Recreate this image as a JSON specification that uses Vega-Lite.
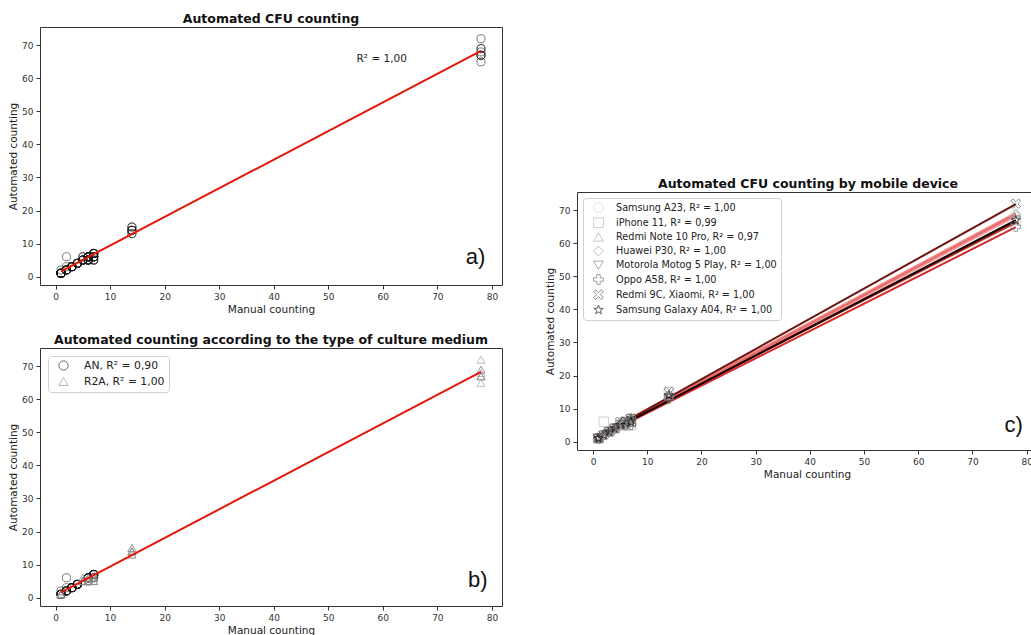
{
  "$schema": "https://vega.github.io/schema/vega-lite/v6.json",
  "background": "white",
  "padding": {"left": 8, "top": 12, "right": 0, "bottom": 0},
  "datasets": {
    "points": [
      {"device": "Samsung A23", "medium": "AN", "manual": 1, "automated": 1},
      {"device": "iPhone 11", "medium": "AN", "manual": 1, "automated": 1},
      {"device": "Redmi Note 10 Pro", "medium": "AN", "manual": 1, "automated": 2},
      {"device": "Huawei P30", "medium": "AN", "manual": 1, "automated": 1},
      {"device": "Motorola Motog 5 Play", "medium": "AN", "manual": 1, "automated": 1},
      {"device": "Oppo A58", "medium": "AN", "manual": 1, "automated": 1},
      {"device": "Redmi 9C, Xiaomi", "medium": "AN", "manual": 1, "automated": 1},
      {"device": "Samsung Galaxy A04", "medium": "AN", "manual": 1, "automated": 1},
      {"device": "Samsung A23", "medium": "AN", "manual": 2, "automated": 2},
      {"device": "iPhone 11", "medium": "AN", "manual": 2, "automated": 6},
      {"device": "Redmi Note 10 Pro", "medium": "AN", "manual": 2, "automated": 3},
      {"device": "Huawei P30", "medium": "AN", "manual": 2, "automated": 2},
      {"device": "Motorola Motog 5 Play", "medium": "AN", "manual": 2, "automated": 2},
      {"device": "Oppo A58", "medium": "AN", "manual": 2, "automated": 2},
      {"device": "Redmi 9C, Xiaomi", "medium": "AN", "manual": 2, "automated": 2},
      {"device": "Samsung Galaxy A04", "medium": "AN", "manual": 2, "automated": 2},
      {"device": "Samsung A23", "medium": "AN", "manual": 3, "automated": 3},
      {"device": "iPhone 11", "medium": "AN", "manual": 3, "automated": 3},
      {"device": "Redmi Note 10 Pro", "medium": "AN", "manual": 3, "automated": 3},
      {"device": "Huawei P30", "medium": "AN", "manual": 3, "automated": 3},
      {"device": "Motorola Motog 5 Play", "medium": "AN", "manual": 3, "automated": 3},
      {"device": "Oppo A58", "medium": "AN", "manual": 3, "automated": 3},
      {"device": "Redmi 9C, Xiaomi", "medium": "AN", "manual": 3, "automated": 3},
      {"device": "Samsung Galaxy A04", "medium": "AN", "manual": 3, "automated": 3},
      {"device": "Samsung A23", "medium": "AN", "manual": 4, "automated": 4},
      {"device": "iPhone 11", "medium": "AN", "manual": 4, "automated": 4},
      {"device": "Redmi Note 10 Pro", "medium": "AN", "manual": 4, "automated": 4},
      {"device": "Huawei P30", "medium": "AN", "manual": 4, "automated": 4},
      {"device": "Motorola Motog 5 Play", "medium": "AN", "manual": 4, "automated": 4},
      {"device": "Oppo A58", "medium": "AN", "manual": 4, "automated": 4},
      {"device": "Redmi 9C, Xiaomi", "medium": "AN", "manual": 4, "automated": 4},
      {"device": "Samsung Galaxy A04", "medium": "AN", "manual": 4, "automated": 4},
      {"device": "Samsung A23", "medium": "AN", "manual": 6, "automated": 6},
      {"device": "iPhone 11", "medium": "AN", "manual": 6, "automated": 6},
      {"device": "Redmi Note 10 Pro", "medium": "AN", "manual": 6, "automated": 6},
      {"device": "Huawei P30", "medium": "AN", "manual": 6, "automated": 6},
      {"device": "Motorola Motog 5 Play", "medium": "AN", "manual": 6, "automated": 6},
      {"device": "Oppo A58", "medium": "AN", "manual": 6, "automated": 5},
      {"device": "Redmi 9C, Xiaomi", "medium": "AN", "manual": 6, "automated": 6},
      {"device": "Samsung Galaxy A04", "medium": "AN", "manual": 6, "automated": 6},
      {"device": "Samsung A23", "medium": "AN", "manual": 7, "automated": 7},
      {"device": "iPhone 11", "medium": "AN", "manual": 7, "automated": 6},
      {"device": "Redmi Note 10 Pro", "medium": "AN", "manual": 7, "automated": 7},
      {"device": "Huawei P30", "medium": "AN", "manual": 7, "automated": 7},
      {"device": "Motorola Motog 5 Play", "medium": "AN", "manual": 7, "automated": 7},
      {"device": "Oppo A58", "medium": "AN", "manual": 7, "automated": 6},
      {"device": "Redmi 9C, Xiaomi", "medium": "AN", "manual": 7, "automated": 7},
      {"device": "Samsung Galaxy A04", "medium": "AN", "manual": 7, "automated": 7},
      {"device": "Samsung A23", "medium": "R2A", "manual": 1, "automated": 1},
      {"device": "iPhone 11", "medium": "R2A", "manual": 1, "automated": 1},
      {"device": "Redmi Note 10 Pro", "medium": "R2A", "manual": 1, "automated": 1},
      {"device": "Huawei P30", "medium": "R2A", "manual": 1, "automated": 1},
      {"device": "Motorola Motog 5 Play", "medium": "R2A", "manual": 1, "automated": 1},
      {"device": "Oppo A58", "medium": "R2A", "manual": 1, "automated": 1},
      {"device": "Redmi 9C, Xiaomi", "medium": "R2A", "manual": 1, "automated": 1},
      {"device": "Samsung Galaxy A04", "medium": "R2A", "manual": 1, "automated": 1},
      {"device": "Samsung A23", "medium": "R2A", "manual": 5, "automated": 5},
      {"device": "iPhone 11", "medium": "R2A", "manual": 5, "automated": 5},
      {"device": "Redmi Note 10 Pro", "medium": "R2A", "manual": 5, "automated": 6},
      {"device": "Huawei P30", "medium": "R2A", "manual": 5, "automated": 5},
      {"device": "Motorola Motog 5 Play", "medium": "R2A", "manual": 5, "automated": 5},
      {"device": "Oppo A58", "medium": "R2A", "manual": 5, "automated": 5},
      {"device": "Redmi 9C, Xiaomi", "medium": "R2A", "manual": 5, "automated": 6},
      {"device": "Samsung Galaxy A04", "medium": "R2A", "manual": 5, "automated": 5},
      {"device": "Samsung A23", "medium": "R2A", "manual": 6, "automated": 5},
      {"device": "iPhone 11", "medium": "R2A", "manual": 6, "automated": 5},
      {"device": "Redmi Note 10 Pro", "medium": "R2A", "manual": 6, "automated": 6},
      {"device": "Huawei P30", "medium": "R2A", "manual": 6, "automated": 6},
      {"device": "Motorola Motog 5 Play", "medium": "R2A", "manual": 6, "automated": 5},
      {"device": "Oppo A58", "medium": "R2A", "manual": 6, "automated": 5},
      {"device": "Redmi 9C, Xiaomi", "medium": "R2A", "manual": 6, "automated": 6},
      {"device": "Samsung Galaxy A04", "medium": "R2A", "manual": 6, "automated": 5},
      {"device": "Samsung A23", "medium": "R2A", "manual": 7, "automated": 5},
      {"device": "iPhone 11", "medium": "R2A", "manual": 7, "automated": 5},
      {"device": "Redmi Note 10 Pro", "medium": "R2A", "manual": 7, "automated": 7},
      {"device": "Huawei P30", "medium": "R2A", "manual": 7, "automated": 6},
      {"device": "Motorola Motog 5 Play", "medium": "R2A", "manual": 7, "automated": 6},
      {"device": "Oppo A58", "medium": "R2A", "manual": 7, "automated": 5},
      {"device": "Redmi 9C, Xiaomi", "medium": "R2A", "manual": 7, "automated": 6},
      {"device": "Samsung Galaxy A04", "medium": "R2A", "manual": 7, "automated": 6},
      {"device": "Samsung A23", "medium": "R2A", "manual": 14, "automated": 14},
      {"device": "iPhone 11", "medium": "R2A", "manual": 14, "automated": 15},
      {"device": "Redmi Note 10 Pro", "medium": "R2A", "manual": 14, "automated": 14},
      {"device": "Huawei P30", "medium": "R2A", "manual": 14, "automated": 14},
      {"device": "Motorola Motog 5 Play", "medium": "R2A", "manual": 14, "automated": 13},
      {"device": "Oppo A58", "medium": "R2A", "manual": 14, "automated": 13},
      {"device": "Redmi 9C, Xiaomi", "medium": "R2A", "manual": 14, "automated": 15},
      {"device": "Samsung Galaxy A04", "medium": "R2A", "manual": 14, "automated": 14},
      {"device": "Samsung A23", "medium": "R2A", "manual": 78, "automated": 68},
      {"device": "iPhone 11", "medium": "R2A", "manual": 78, "automated": 67},
      {"device": "Redmi Note 10 Pro", "medium": "R2A", "manual": 78, "automated": 69},
      {"device": "Huawei P30", "medium": "R2A", "manual": 78, "automated": 69},
      {"device": "Motorola Motog 5 Play", "medium": "R2A", "manual": 78, "automated": 67},
      {"device": "Oppo A58", "medium": "R2A", "manual": 78, "automated": 65},
      {"device": "Redmi 9C, Xiaomi", "medium": "R2A", "manual": 78, "automated": 72},
      {"device": "Samsung Galaxy A04", "medium": "R2A", "manual": 78, "automated": 67}
    ],
    "fits": [
      {"device": "Samsung A23", "manual": 1, "automated": 1.3},
      {"device": "Samsung A23", "manual": 78, "automated": 68.2},
      {"device": "iPhone 11", "manual": 1, "automated": 1.8},
      {"device": "iPhone 11", "manual": 78, "automated": 66.3},
      {"device": "Redmi Note 10 Pro", "manual": 1, "automated": 1.9},
      {"device": "Redmi Note 10 Pro", "manual": 78, "automated": 69.2},
      {"device": "Huawei P30", "manual": 1, "automated": 1.4},
      {"device": "Huawei P30", "manual": 78, "automated": 68.8},
      {"device": "Motorola Motog 5 Play", "manual": 1, "automated": 1.3},
      {"device": "Motorola Motog 5 Play", "manual": 78, "automated": 66.8},
      {"device": "Oppo A58", "manual": 1, "automated": 1.2},
      {"device": "Oppo A58", "manual": 78, "automated": 64.9},
      {"device": "Redmi 9C, Xiaomi", "manual": 1, "automated": 1.5},
      {"device": "Redmi 9C, Xiaomi", "manual": 78, "automated": 71.9},
      {"device": "Samsung Galaxy A04", "manual": 1, "automated": 1.3},
      {"device": "Samsung Galaxy A04", "manual": 78, "automated": 67.0}
    ],
    "overall": [
      {"manual": 1, "automated": 1.6},
      {"manual": 78, "automated": 68.3}
    ]
  },
  "hconcat": [
    {
      "vconcat": [
        {
          "width": 462,
          "height": 258,
          "title": {"text": "Automated CFU counting", "offset": 2},
          "layer": [
            {
              "data": {"name": "points"},
              "mark": {"type": "point", "filled": false, "shape": "circle", "size": 65, "stroke": "#111", "strokeWidth": 0.8},
              "encoding": {
                "x": {"field": "manual", "type": "quantitative", "scale": {"domain": [-2.85, 81.85], "nice": false, "zero": false}, "axis": {"values": [0, 10, 20, 30, 40, 50, 60, 70, 80], "tickCount": 9, "title": "Manual counting"}},
                "y": {"field": "automated", "type": "quantitative", "scale": {"domain": [-2.55, 75.55], "nice": false, "zero": false}, "axis": {"values": [0, 10, 20, 30, 40, 50, 60, 70], "tickCount": 8, "labelOverlap": false, "title": "Automated counting"}}
              }
            },
            {
              "data": {"name": "overall"},
              "mark": {"type": "line", "color": "#e3170a", "strokeWidth": 2},
              "encoding": {
                "x": {"field": "manual", "type": "quantitative"},
                "y": {"field": "automated", "type": "quantitative"}
              }
            },
            {
              "data": {"values": [{}]},
              "mark": {"type": "text", "font": "DejaVu Sans", "fontSize": 10.5, "color": "#222"},
              "encoding": {"x": {"datum": 59.8, "type": "quantitative"}, "y": {"datum": 66, "type": "quantitative"}, "text": {"value": "R² = 1,00"}}
            },
            {
              "data": {"values": [{}]},
              "mark": {"type": "text", "font": "Liberation Sans", "fontSize": 22, "align": "right", "baseline": "middle", "color": "#111"},
              "encoding": {"x": {"datum": 78.8, "type": "quantitative"}, "y": {"datum": 5.8, "type": "quantitative"}, "text": {"value": "a)"}}
            }
          ]
        },
        {
          "width": 462,
          "height": 258,
          "title": {"text": "Automated counting according to the type of culture medium", "offset": 2},
          "layer": [
            {
              "data": {"name": "points"},
              "mark": {"type": "point", "filled": false, "size": 65, "strokeWidth": 0.8},
              "encoding": {
                "x": {"field": "manual", "type": "quantitative", "scale": {"domain": [-2.85, 81.85], "nice": false, "zero": false}, "axis": {"values": [0, 10, 20, 30, 40, 50, 60, 70, 80], "tickCount": 9, "title": "Manual counting"}},
                "y": {"field": "automated", "type": "quantitative", "scale": {"domain": [-2.55, 75.55], "nice": false, "zero": false}, "axis": {"values": [0, 10, 20, 30, 40, 50, 60, 70], "tickCount": 8, "labelOverlap": false, "title": "Automated counting"}},
                "shape": {"field": "medium", "type": "nominal", "scale": {"domain": ["AN", "R2A"], "range": ["circle", "triangle-up"]}, "legend": {"title": null, "orient": "top-left", "offset": 8, "labelFontSize": 10.8, "labelOffset": 15, "rowPadding": 3, "symbolSize": 85, "labelExpr": "datum.label == 'AN' ? 'AN, R² = 0,90' : 'R2A, R² = 1,00'"}},
                "stroke": {"field": "medium", "type": "nominal", "scale": {"domain": ["AN", "R2A"], "range": ["#111111", "#8c8c8c"]}, "legend": {"title": null, "orient": "top-left", "offset": 8, "labelFontSize": 10.8, "labelOffset": 15, "rowPadding": 3, "symbolSize": 85, "labelExpr": "datum.label == 'AN' ? 'AN, R² = 0,90' : 'R2A, R² = 1,00'"}}
              }
            },
            {
              "data": {"name": "overall"},
              "mark": {"type": "line", "color": "#e3170a", "strokeWidth": 2},
              "encoding": {
                "x": {"field": "manual", "type": "quantitative"},
                "y": {"field": "automated", "type": "quantitative"}
              }
            },
            {
              "data": {"values": [{}]},
              "mark": {"type": "text", "font": "Liberation Sans", "fontSize": 22, "align": "right", "baseline": "middle", "color": "#111"},
              "encoding": {"x": {"datum": 79.2, "type": "quantitative"}, "y": {"datum": 5.3, "type": "quantitative"}, "text": {"value": "b)"}}
            }
          ]
        }
      ],
      "spacing": 18,
      "resolve": {
        "scale": {"shape": "independent", "stroke": "independent"},
        "legend": {"shape": "independent", "stroke": "independent"}
      }
    },
    {
      "vconcat": [
        {
          "width": 10,
          "height": 150,
          "data": {"values": [{}]},
          "mark": {"type": "text"},
          "encoding": {"text": {"value": ""}},
          "view": {"stroke": null}
        },
        {
          "width": 454,
          "height": 258,
          "title": {"text": "Automated CFU counting by mobile device", "offset": 2, "dx": 4},
          "layer": [
            {"data": {"name": "fits"}, "transform": [{"filter": "datum.device == 'Samsung A23'"}], "mark": {"type": "line", "strokeWidth": 2.2, "color": "#f5a3a3"},
             "encoding": {
               "x": {"field": "manual", "type": "quantitative", "scale": {"domain": [-2.95, 80.8], "nice": false, "zero": false}, "axis": {"values": [0, 10, 20, 30, 40, 50, 60, 70, 80], "tickCount": 9, "title": "Manual counting", "titleX": 230}},
               "y": {"field": "automated", "type": "quantitative", "scale": {"domain": [-2.55, 75.55], "nice": false, "zero": false}, "axis": {"values": [0, 10, 20, 30, 40, 50, 60, 70], "tickCount": 8, "labelOverlap": false, "title": "Automated counting"}}
             }},
            {"data": {"name": "fits"}, "transform": [{"filter": "datum.device == 'iPhone 11'"}], "mark": {"type": "line", "strokeWidth": 2, "color": "#c0392b"},
             "encoding": {"x": {"field": "manual", "type": "quantitative"}, "y": {"field": "automated", "type": "quantitative"}}},
            {"data": {"name": "fits"}, "transform": [{"filter": "datum.device == 'Redmi Note 10 Pro'"}], "mark": {"type": "line", "strokeWidth": 2.2, "color": "#f28b82"},
             "encoding": {"x": {"field": "manual", "type": "quantitative"}, "y": {"field": "automated", "type": "quantitative"}}},
            {"data": {"name": "fits"}, "transform": [{"filter": "datum.device == 'Huawei P30'"}], "mark": {"type": "line", "strokeWidth": 2, "color": "#e86a6a"},
             "encoding": {"x": {"field": "manual", "type": "quantitative"}, "y": {"field": "automated", "type": "quantitative"}}},
            {"data": {"name": "fits"}, "transform": [{"filter": "datum.device == 'Motorola Motog 5 Play'"}], "mark": {"type": "line", "strokeWidth": 2, "color": "#8b1a1a"},
             "encoding": {"x": {"field": "manual", "type": "quantitative"}, "y": {"field": "automated", "type": "quantitative"}}},
            {"data": {"name": "fits"}, "transform": [{"filter": "datum.device == 'Oppo A58'"}], "mark": {"type": "line", "strokeWidth": 2, "color": "#d42a2a"},
             "encoding": {"x": {"field": "manual", "type": "quantitative"}, "y": {"field": "automated", "type": "quantitative"}}},
            {"data": {"name": "fits"}, "transform": [{"filter": "datum.device == 'Redmi 9C, Xiaomi'"}], "mark": {"type": "line", "strokeWidth": 2, "color": "#6b1414"},
             "encoding": {"x": {"field": "manual", "type": "quantitative"}, "y": {"field": "automated", "type": "quantitative"}}},
            {"data": {"name": "fits"}, "transform": [{"filter": "datum.device == 'Samsung Galaxy A04'"}], "mark": {"type": "line", "strokeWidth": 2, "color": "#1a0303"},
             "encoding": {"x": {"field": "manual", "type": "quantitative"}, "y": {"field": "automated", "type": "quantitative"}}},
            {
              "data": {"name": "points"},
              "mark": {"type": "point", "filled": false, "size": 90, "strokeWidth": 0.9},
              "encoding": {
                "x": {"field": "manual", "type": "quantitative"},
                "y": {"field": "automated", "type": "quantitative"},
                "shape": {"field": "device", "type": "nominal", "scale": {"domain": ["Samsung A23", "iPhone 11", "Redmi Note 10 Pro", "Huawei P30", "Motorola Motog 5 Play", "Oppo A58", "Redmi 9C, Xiaomi", "Samsung Galaxy A04"], "range": ["circle", "square", "triangle-up", "diamond", "triangle-down", "M-0.35,-1L0.35,-1L0.35,-0.35L1,-0.35L1,0.35L0.35,0.35L0.35,1L-0.35,1L-0.35,0.35L-1,0.35L-1,-0.35L-0.35,-0.35Z", "M-1,-0.6L-0.6,-1L0,-0.4L0.6,-1L1,-0.6L0.4,0L1,0.6L0.6,1L0,0.4L-0.6,1L-1,0.6L-0.4,0Z", "M0,-1L0.235,-0.324L0.951,-0.309L0.38,0.124L0.588,0.809L0,0.4L-0.588,0.809L-0.38,0.124L-0.951,-0.309L-0.235,-0.324Z"]}, "legend": {"title": null, "orient": "top-left", "offset": 6, "labelFontSize": 9.7, "labelOffset": 12, "rowPadding": 0.2, "symbolSize": 95, "labelLimit": 400, "labelExpr": "datum.label + ', R² = ' + (datum.label == 'iPhone 11' ? '0,99' : datum.label == 'Redmi Note 10 Pro' ? '0,97' : '1,00')"}},
                "stroke": {"field": "device", "type": "nominal", "scale": {"domain": ["Samsung A23", "iPhone 11", "Redmi Note 10 Pro", "Huawei P30", "Motorola Motog 5 Play", "Oppo A58", "Redmi 9C, Xiaomi", "Samsung Galaxy A04"], "range": ["#d4d4d4", "#b5b5b5", "#a8a8a8", "#999999", "#7f7f7f", "#666666", "#444444", "#000000"]}, "legend": {"title": null, "orient": "top-left", "offset": 6, "labelFontSize": 9.7, "labelOffset": 12, "rowPadding": 0.2, "symbolSize": 95, "labelLimit": 400, "labelExpr": "datum.label + ', R² = ' + (datum.label == 'iPhone 11' ? '0,99' : datum.label == 'Redmi Note 10 Pro' ? '0,97' : '1,00')"}}
              }
            },
            {
              "data": {"values": [{}]},
              "mark": {"type": "text", "font": "Liberation Sans", "fontSize": 22, "align": "right", "baseline": "middle", "color": "#111"},
              "encoding": {"x": {"datum": 79.3, "type": "quantitative"}, "y": {"datum": 5.1, "type": "quantitative"}, "text": {"value": "c)"}}
            }
          ]
        }
      ],
      "spacing": 0,
      "resolve": {
        "scale": {"shape": "independent", "stroke": "independent"},
        "legend": {"shape": "independent", "stroke": "independent"}
      }
    }
  ],
  "spacing": 42,
  "resolve": {
    "scale": {"shape": "independent", "stroke": "independent"},
    "legend": {"shape": "independent", "stroke": "independent"}
  },
  "config": {
    "view": {"stroke": "#333", "strokeWidth": 1},
    "font": "DejaVu Sans",
    "axis": {"grid": false, "domain": false, "labelOverlap": false, "tickColor": "#333", "tickSize": 4, "labelFontSize": 9, "labelColor": "#333", "labelFont": "DejaVu Sans", "titleFont": "DejaVu Sans", "titleFontSize": 10.5, "titleFontWeight": "normal", "titleColor": "#222", "labelPadding": 3, "titlePadding": 3},
    "title": {"font": "DejaVu Sans", "fontSize": 12.5, "fontWeight": "bold", "color": "#111"},
    "legend": {"fillColor": "white", "strokeColor": "#d0d0d0", "cornerRadius": 3, "padding": 4, "symbolOffset": 6, "labelFont": "DejaVu Sans", "labelColor": "#222", "symbolStrokeWidth": 0.9, "symbolFillColor": "transparent"}
  }
}
